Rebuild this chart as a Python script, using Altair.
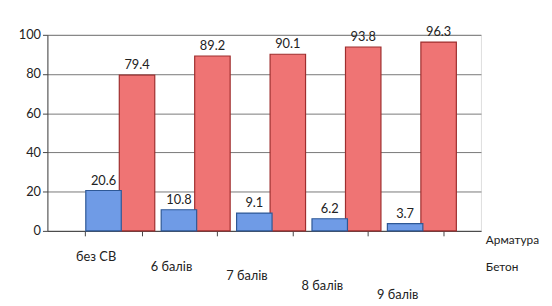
import altair as alt
import pandas as pd

categories = ["без СВ", "6 балів", "7 балів", "8 балів", "9 балів"]
beton = [20.6, 10.8, 9.1, 6.2, 3.7]
armatura = [79.4, 89.2, 90.1, 93.8, 96.3]
series = ["Арматура", "Бетон"]
colors = ["#EF7474", "#6F9BE6"]
strokes = ["#9E2E2E", "#2E5896"]
y_ticks = [0, 20, 40, 60, 80, 100]
label_drop = [15, 25, 34, 44, 54]

df = pd.DataFrame({
    "cat": categories * 2,
    "series": ["Бетон"] * len(categories) + ["Арматура"] * len(categories),
    "value": beton + armatura,
})

FONT = "Lato"

pad_cond = {
    "condition": [{"test": f"datum.value === '{c}'", "value": d}
                  for c, d in zip(categories, label_drop)],
    "value": 12,
}

x = alt.X("cat:N", sort=categories, title=None,
          scale=alt.Scale(paddingInner=0.25, paddingOuter=0.5),
          axis=alt.Axis(labelAngle=0, labelFontSize=13, labelFont=FONT, labelColor="#222",
                        domainColor="#444", tickColor="#444", tickBand="extent",
                        labelPadding=pad_cond, labelOffset=-18))
y = alt.Y("value:Q", title=None,
          scale=alt.Scale(domain=[0, 100]),
          axis=alt.Axis(values=y_ticks, labelFontSize=13, labelFont=FONT, labelColor="#222",
                        domainColor="#444", tickColor="#444", gridColor="#555",
                        gridWidth=0.8, tickSize=5))
color = alt.Color("series:N", scale=alt.Scale(domain=series, range=colors),
                  legend=alt.Legend(title=None, orient="none", legendX=429, legendY=202,
                                    symbolOpacity=0, symbolSize=0, symbolStrokeWidth=0,
                                    labelFontSize=12, labelFont=FONT, labelColor="#222",
                                    labelLimit=200, rowPadding=16))

base = alt.Chart(df)

red = base.transform_filter(alt.datum.series == "Арматура").mark_bar(
    size=36, xOffset=24, stroke=strokes[0], strokeWidth=1.2).encode(x=x, y=y, color=color)
blue = base.transform_filter(alt.datum.series == "Бетон").mark_bar(
    size=36, xOffset=-10, stroke=strokes[1], strokeWidth=1.2).encode(x=x, y=y, color=color)

red_txt = base.transform_filter(alt.datum.series == "Арматура").mark_text(
    dy=-10, dx=24, fontSize=13, font=FONT, color="#222").encode(
    x=x, y=y, text=alt.Text("value:Q", format=".1f"))
blue_txt = base.transform_filter(alt.datum.series == "Бетон").mark_text(
    dy=-10, dx=-10, fontSize=13, font=FONT, color="#222").encode(
    x=x, y=y, text=alt.Text("value:Q", format=".1f"))

chart = alt.layer(red, red_txt, blue, blue_txt).properties(
    width=440, height=199,
    autosize=alt.AutoSizeParams(type="none"),
    padding={"left": 40, "top": 25, "right": 64, "bottom": 74},
).configure_view(stroke=None).configure(background="white")

chart.save("out.html", embed_options={"renderer": "svg", "actions": False})
